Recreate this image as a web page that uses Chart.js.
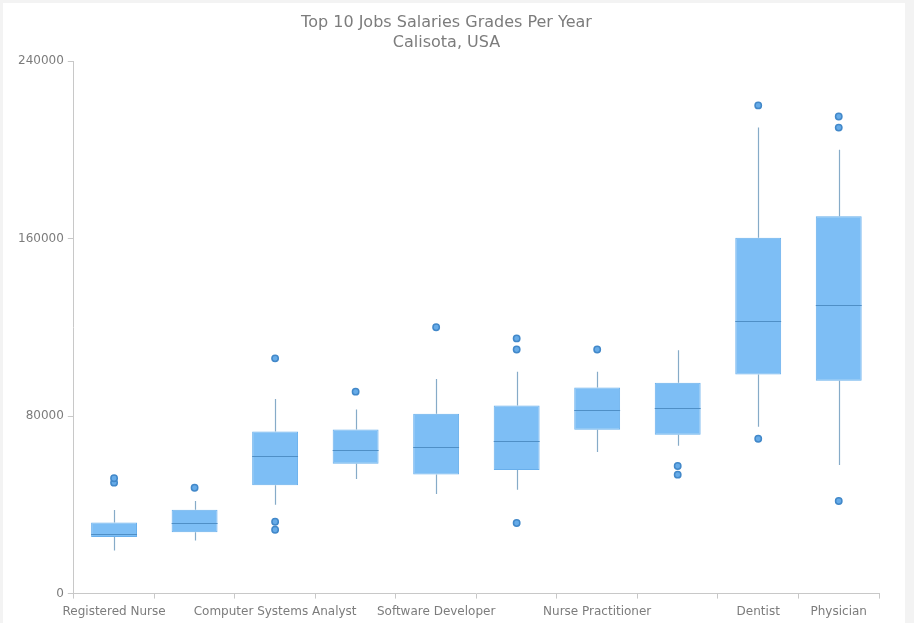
<!DOCTYPE html>
<html>
<head>
<meta charset="utf-8">
<script src="https://cdn.jsdelivr.net/npm/chart.js@4"></script>
<style>
    body { margin: 0; background: #f3f3f3; }
    #frame { position: absolute; left: 3px; top: 3px; width: 902px; height: 620px; background: #fff; }
    #wrap { position: absolute; left: 0; top: 0; width: 886px; height: 620px; }
</style>
</head>
<body>
<div id="frame"><div id="wrap"><canvas id="chart"></canvas></div></div>
<script>
// data
var categories = ["Registered Nurse", "Physical Therapist", "Computer Systems Analyst", "Physician Assistant", "Software Developer", "Statistician", "Nurse Practitioner", "Orthodontist", "Dentist", "Physician"];
var shownLabels = [0, 2, 4, 6, 8, 9];
var low = [19400, 23900, 40000, 51600, 44900, 46800, 63800, 66600, 75200, 58000];
var q1 = [25500, 27600, 48800, 58500, 53700, 55700, 73800, 71600, 98700, 95900];
var median = [27000, 32000, 61800, 64700, 65900, 68800, 82700, 83800, 122800, 130000];
var q3 = [32000, 37800, 73000, 74000, 81000, 84800, 92900, 95000, 160300, 170000];
var high = [37700, 41700, 87700, 83000, 96700, 100000, 100000, 109700, 210000, 200000];
var outliers = [
    [50000, 52000],
    [47700],
    [106000, 32400, 28800],
    [91000],
    [120000],
    [115000, 110000, 31800],
    [110000],
    [57500, 53600],
    [220000, 69800],
    [215000, 210000, 41700]
];
var yTicks = [0, 80000, 160000, 240000];

var boxData = categories.map(function (c, i) { return [q1[i], q3[i]]; });
var outlierData = [];
outliers.forEach(function (list, i) {
    list.forEach(function (v) { outlierData.push({ x: categories[i], y: v }); });
});

// whiskers + medians
const boxExtras = {
    id: 'boxExtras',
    afterDatasetsDraw(chart) {
        const ctx = chart.ctx;
        const y = chart.scales.y;
        const bars = chart.getDatasetMeta(0).data;
        ctx.save();
        bars.forEach(function (bar, i) {
            const x = Math.round(bar.x) + 0.5;
            ctx.strokeStyle = "#86abc8";
            ctx.lineWidth = 1.2;
            ctx.beginPath();
            ctx.moveTo(x, y.getPixelForValue(high[i]));
            ctx.lineTo(x, y.getPixelForValue(q3[i]));
            ctx.moveTo(x, y.getPixelForValue(q1[i]));
            ctx.lineTo(x, y.getPixelForValue(low[i]));
            ctx.stroke();
            const m = Math.round(y.getPixelForValue(median[i])) + 0.5;
            ctx.strokeStyle = "#4f8fc6";
            ctx.lineWidth = 1;
            ctx.beginPath();
            ctx.moveTo(bar.x - bar.width / 2, m);
            ctx.lineTo(bar.x + bar.width / 2, m);
            ctx.stroke();
        });
        ctx.restore();
    }
};

const chrt = document.getElementById("chart");
const ChartData = new Chart(chrt, {
    type: "bar",
    data: {
        labels: categories,
        datasets: [
            {
                label: "Salary",
                data: boxData,
                backgroundColor: "#7dbef5",
                borderColor: "#68afec",
                borderWidth: 1,
                borderSkipped: false,
                categoryPercentage: 1,
                barPercentage: 0.57,
                order: 2
            },
            {
                type: "scatter",
                label: "Outliers",
                data: outlierData,
                backgroundColor: "#66abe8",
                borderColor: "#4288c9",
                borderWidth: 1.5,
                pointRadius: 3.2,
                order: 1
            }
        ]
    },
    options: {
        responsive: true,
        maintainAspectRatio: false,
        animation: false,
        layout: { padding: { left: 11, right: 10, bottom: -2 } },
        plugins: {
            legend: { display: false },
            tooltip: { enabled: false },
            title: {
                display: true,
                text: ["Top 10 Jobs Salaries Grades Per Year", "Calisota, USA"],
                color: "#7c7c7c",
                font: { family: "DejaVu Sans", size: 16, weight: "normal", lineHeight: 1.25 },
                padding: { top: 10, bottom: 8 }
            }
        },
        scales: {
            x: {
                type: "category",
                offset: true,
                grid: { offset: true, drawOnChartArea: false, drawTicks: true, tickLength: 5, color: "#c8c8c8" },
                border: { display: true, color: "#c8c8c8" },
                ticks: {
                    autoSkip: false,
                    maxRotation: 0,
                    color: "#7c7c7c",
                    padding: 6,
                    font: { family: "DejaVu Sans", size: 12 },
                    callback: function (value, index) {
                        return shownLabels.indexOf(index) >= 0 ? categories[index] : "";
                    }
                }
            },
            y: {
                min: 0,
                max: 240000,
                afterBuildTicks: function (axis) {
                    axis.ticks = yTicks.map(function (v) { return { value: v }; });
                },
                grid: { drawOnChartArea: false, drawTicks: true, tickLength: 6, color: "#c8c8c8" },
                border: { display: true, color: "#c8c8c8" },
                ticks: {
                    color: "#7c7c7c",
                    padding: 4,
                    font: { family: "DejaVu Sans", size: 12 },
                    callback: function (value) { return String(value); }
                }
            }
        }
    },
    plugins: [boxExtras]
});
</script>
</body>
</html>
